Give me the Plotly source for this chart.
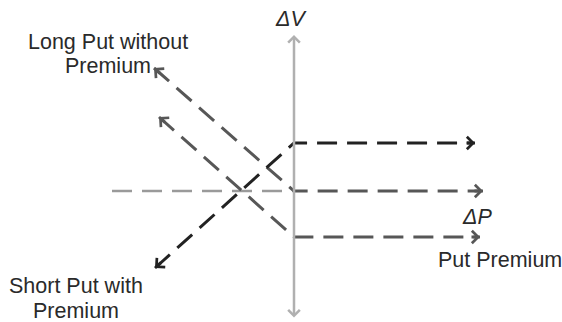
import plotly.graph_objects as go

# Put payoff diagram (1 unit ~ 10 px, origin where the axes cross)
dp_long = [-14.0, 0, 18.9]          # long put without premium
dv_long = [12.3, 0, 0]
dp_long_prem = [-13.5, 0, 18.6]     # long put shifted down by the premium
dv_long_prem = [7.4, -4.6, -4.6]
dp_short = [-13.9, 0, 18.1]         # short put with premium
dv_short = [-7.7, 4.8, 4.8]
dp_axis = [-18.2, 0]                # dashed left part of the ΔP axis
dv_axis = [0, 0]
dv_axis_top = 15.6
dv_axis_bottom = -12.8

# one entry per text line
labels = ["<i>ΔV</i>", "<i>ΔP</i>", "Put Premium",
          "Long Put without", "Premium", "Short Put with", "Premium"]
label_x = [-0.3, 18.25, 20.6, -18.65, -18.65, -21.8, -21.8]
label_y = [17.25, -2.55, -6.9, 14.9, 12.5, -9.5, -12.0]

FONT = "Liberation Sans, Arial, sans-serif"


# Chevron arrow head at the end of a polyline, pointing along the last segment
def arrow_head(xs, ys, color, at_start=False):
    if at_start:
        xs, ys = xs[::-1], ys[::-1]
    dx = xs[-1] - xs[-2]
    dy = ys[-1] - ys[-2]
    n = (dx ** 2 + dy ** 2) ** 0.5
    return dict(x=xs[-1], y=ys[-1], ax=xs[-1] - dx / n * 1.0, ay=ys[-1] - dy / n * 1.0,
                xref='x', yref='y', axref='x', ayref='y', text='', showarrow=True,
                arrowhead=4, arrowsize=0.8, arrowwidth=3, arrowcolor=color, standoff=0)


fig = go.Figure()

# dashed left half of the horizontal axis
fig.add_trace(go.Scatter(x=dp_axis, y=dv_axis, mode='lines',
                         line=dict(color='#9a9a9a', width=2.5, dash='20px,10px')))

series = [
    (dp_long, dv_long, '#575757'),
    (dp_long_prem, dv_long_prem, '#575757'),
    (dp_short, dv_short, '#222222'),
]

annotations = []
for xs, ys, color in series:
    fig.add_trace(go.Scatter(x=xs, y=ys, mode='lines',
                             line=dict(color=color, width=3, dash='20px,10px')))
    annotations.append(arrow_head(xs, ys, color, at_start=True))
    annotations.append(arrow_head(xs, ys, color))

# vertical ΔV axis, arrows at both ends
annotations.append(dict(x=0, y=dv_axis_top, ax=0, ay=dv_axis_bottom,
                        xref='x', yref='y', axref='x', ayref='y', text='', showarrow=True,
                        arrowside='end+start', arrowhead=4, startarrowhead=4,
                        arrowsize=0.9, startarrowsize=0.9, arrowwidth=2.5,
                        arrowcolor='#b0b0b0', standoff=0, startstandoff=0))

for txt, lx, ly in zip(labels, label_x, label_y):
    annotations.append(dict(x=lx, y=ly, xref='x', yref='y', text=txt, showarrow=False,
                            xanchor='center', yanchor='middle', align='center',
                            font=dict(family=FONT, size=21.5, color='#2a2a2a')))

fig.update_layout(
    width=562, height=322,
    margin=dict(l=0, r=0, t=0, b=0),
    paper_bgcolor='white', plot_bgcolor='white',
    showlegend=False,
    annotations=annotations,
)
fig.update_xaxes(range=[-29.4, 26.8], visible=False, fixedrange=True)
fig.update_yaxes(range=[-13.1, 19.1], visible=False, fixedrange=True)

# drop the default page margin so the figure fills the window exactly
fig.write_html("out.html", config={'displayModeBar': False},
               post_script="document.body.style.margin = '0';")
